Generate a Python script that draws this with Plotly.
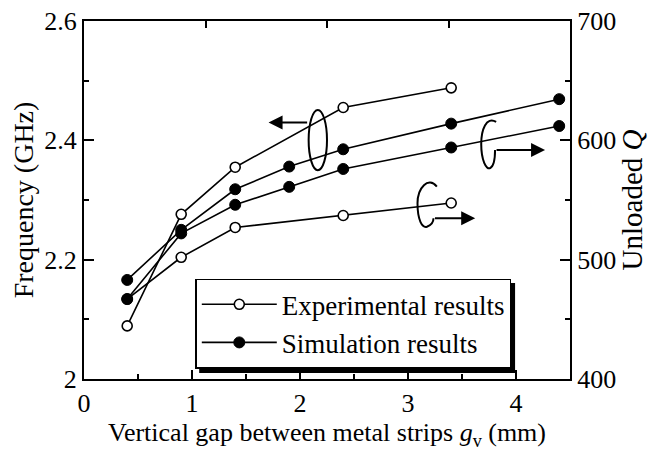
import plotly.graph_objects as go

# ---- data ----
gap_exp = [0.4, 0.9, 1.4, 2.4, 3.4]
freq_exp = [2.089, 2.276, 2.355, 2.455, 2.488]
q_exp = [467, 502, 527, 537, 547.5]

gap_sim = [0.4, 0.9, 1.4, 1.9, 2.4, 3.4, 4.4]
freq_sim = [2.166, 2.250, 2.318, 2.356, 2.385, 2.428, 2.469]
q_sim = [467, 522, 546, 561, 576, 594, 612]

FONT = "Liberation Serif"
BLACK = "#000000"

fig = go.Figure()

open_marker = dict(symbol="circle", size=10, color="white", line=dict(color=BLACK, width=1.6))
fill_marker = dict(symbol="circle", size=11, color=BLACK, line=dict(color=BLACK, width=1))
line_style = dict(color=BLACK, width=1.6)

fig.add_trace(go.Scatter(x=gap_exp, y=freq_exp, mode="lines+markers", name="Experimental results",
                         marker=open_marker, line=line_style, showlegend=True, legendgroup="e",
                         xaxis="x2"))
fig.add_trace(go.Scatter(x=gap_exp, y=q_exp, mode="lines+markers", name="Experimental results",
                         marker=open_marker, line=line_style, showlegend=False, legendgroup="e",
                         yaxis="y2"))
fig.add_trace(go.Scatter(x=gap_sim, y=freq_sim, mode="lines+markers", name="Simulation results",
                         marker=fill_marker, line=line_style, showlegend=True, legendgroup="s"))
fig.add_trace(go.Scatter(x=gap_sim, y=q_sim, mode="lines+markers", name="Simulation results",
                         marker=fill_marker, line=line_style, showlegend=False, legendgroup="s",
                         yaxis="y2"))

tickfont = dict(family=FONT, size=26, color=BLACK)

fig.update_layout(
    width=667, height=454,
    margin=dict(l=76, r=105, t=13, b=83, autoexpand=False),
    paper_bgcolor="white", plot_bgcolor="white",
    font=dict(family=FONT, color=BLACK, size=26),
    xaxis=dict(range=[0, 4.5], dtick=1, tick0=0, ticks="inside", ticklen=9, tickwidth=1.5,
               minor=dict(dtick=0.5, ticks="inside", ticklen=5, tickwidth=1.5, tickcolor=BLACK),
               tickcolor=BLACK, showline=True, linewidth=2, linecolor=BLACK, automargin=False,
               ticklabeloverflow="allow",
               showgrid=False, zeroline=False, tickfont=tickfont,
               title=dict(text="Vertical gap between metal strips <i>g</i><sub>v</sub> (mm)",
                          font=dict(family=FONT, size=26, color=BLACK), standoff=6)),
    xaxis2=dict(range=[0, 4.5], overlaying="x", side="top", anchor="y",
                tickvals=[1.125, 2.25, 3.375], ticks="inside", ticklen=7, tickwidth=1.5,
                tickcolor=BLACK, showticklabels=False, showline=True, linewidth=2,
                linecolor=BLACK, showgrid=False, zeroline=False, automargin=False),
    yaxis=dict(range=[2, 2.6], tickvals=[2, 2.2, 2.4, 2.6], ticktext=["2", "2.2", "2.4", "2.6"],
               ticks="inside", ticklen=10, tickwidth=1.5,
               minor=dict(tickvals=[2.1, 2.3, 2.5], ticks="inside", ticklen=5, tickwidth=1.5,
                          tickcolor=BLACK),
               tickcolor=BLACK, showline=True, linewidth=2, linecolor=BLACK, automargin=False,
               ticklabeloverflow="allow",
               showgrid=False, zeroline=False, tickfont=tickfont,
               title=dict(text="Frequency (GHz)", font=dict(family=FONT, size=28, color=BLACK),
                          standoff=4)),
    yaxis2=dict(range=[400, 700], tickvals=[400, 500, 600, 700], overlaying="y", side="right",
                anchor="x", ticks="inside", ticklen=10, tickwidth=1.5, automargin=False,
                ticklabeloverflow="allow",
                minor=dict(tickvals=[450, 550, 650], ticks="inside", ticklen=5, tickwidth=1.5,
                           tickcolor=BLACK),
                tickcolor=BLACK, showline=True, linewidth=2, linecolor=BLACK,
                showgrid=False, zeroline=False, tickfont=tickfont,
                title=dict(text="Unloaded <i>Q</i>", font=dict(family=FONT, size=29, color=BLACK),
                           standoff=4)),
    legend=dict(x=0.229, y=0.28, xanchor="left", yanchor="top",
                bgcolor="white", bordercolor=BLACK, borderwidth=1.5,
                font=dict(family=FONT, size=27, color=BLACK),
                tracegroupgap=0, itemwidth=75),
)

# legend drop shadow
fig.add_shape(type="rect", xref="paper", yref="paper", x0=0.237, x1=0.887, y0=0.017, y1=0.268,
              fillcolor=BLACK, line=dict(width=0), layer="above")

# loop + arrow: frequency curves -> left axis
fig.add_shape(type="circle", xref="x", yref="y", x0=2.08, x1=2.25, y0=2.350, y1=2.451,
              line=dict(color=BLACK, width=2))
fig.add_annotation(x=1.709, y=2.430, ax=2.08, ay=2.430, xref="x", yref="y", axref="x", ayref="y",
                   text="", showarrow=True, arrowhead=2, arrowsize=1.4, arrowwidth=2, arrowcolor=BLACK)

# loop + arrow: simulated Q -> right axis
fig.add_shape(type="path", xref="x", yref="y2", line=dict(color=BLACK, width=2),
              path="M 3.816,615.4 C 3.724,620.4 3.678,608.7 3.678,596.9 "
                   "C 3.678,583.5 3.724,575.1 3.761,576.8 C 3.797,578.5 3.806,585.2 3.806,591.9")
fig.add_annotation(x=4.269, y=591.9, ax=3.806, ay=591.9, xref="x", yref="y2", axref="x", ayref="y2",
                   text="", showarrow=True, arrowhead=2, arrowsize=1.4, arrowwidth=2, arrowcolor=BLACK)

# loop + arrow: experimental Q -> right axis
fig.add_shape(type="path", xref="x", yref="y2", line=dict(color=BLACK, width=2),
              path="M 3.267,561.2 C 3.187,570.1 3.088,560.1 3.088,547.2 "
                   "C 3.088,533.2 3.131,526.5 3.175,527.6 C 3.215,529.0 3.236,531.6 3.236,534.7")
fig.add_annotation(x=3.622, y=534.7, ax=3.236, ay=534.7, xref="x", yref="y2", axref="x", ayref="y2",
                   text="", showarrow=True, arrowhead=2, arrowsize=1.4, arrowwidth=2, arrowcolor=BLACK)

fig.write_html("out.html")
